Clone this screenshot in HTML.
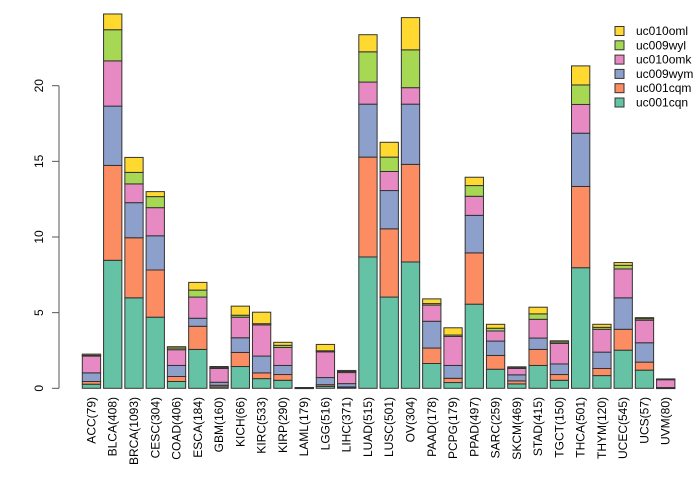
<!DOCTYPE html>
<html><head><meta charset="utf-8"><style>
html,body{margin:0;padding:0;background:#fff;}
svg{display:block;font-family:"Liberation Sans",sans-serif;}
</style></head><body>
<svg id="chart" width="700" height="480" viewBox="0 0 700 480"></svg>
<script>
const categories = ["ACC(79)","BLCA(408)","BRCA(1093)","CESC(304)","COAD(406)","ESCA(184)","GBM(160)","KICH(66)","KIRC(533)","KIRP(290)","LAML(179)","LGG(516)","LIHC(371)","LUAD(515)","LUSC(501)","OV(304)","PAAD(178)","PCPG(179)","PPAD(497)","SARC(259)","SKCM(469)","STAD(415)","TGCT(150)","THCA(501)","THYM(120)","UCEC(545)","UCS(57)","UVM(80)"];
const seriesNames = ["uc001cqn","uc001cqm","uc009wym","uc010omk","uc009wyl","uc010oml"];
const seriesColors = ["#66C2A5","#FC8D62","#8DA0CB","#E78AC3","#A6D854","#FFD92F"];
const uc001cqn = [0.27,8.46,5.98,4.70,0.45,2.57,0.09,1.44,0.64,0.53,0.02,0.13,0.04,8.68,6.03,8.35,1.64,0.38,5.56,1.26,0.29,1.51,0.53,7.97,0.84,2.52,1.20,0.02];
const uc001cqm = [0.18,6.27,3.97,3.12,0.33,1.53,0.11,0.93,0.38,0.38,0.01,0.11,0.05,6.60,4.51,6.45,1.02,0.28,3.39,0.91,0.20,1.06,0.38,5.37,0.47,1.38,0.53,0.01];
const uc009wym = [0.57,3.92,2.32,2.26,0.73,0.53,0.20,0.97,1.11,0.60,0.01,0.47,0.22,3.50,2.53,3.98,1.77,0.85,2.48,0.95,0.40,0.75,0.70,3.52,1.08,2.08,1.28,0.02];
const uc010omk = [1.11,2.99,1.24,1.86,1.04,1.40,0.91,1.36,2.06,1.19,0.01,1.70,0.73,1.46,1.26,1.09,1.07,1.92,1.26,0.67,0.42,1.24,1.36,1.90,1.51,1.91,1.49,0.53];
const uc009wyl = [0.05,2.06,0.76,0.73,0.11,0.46,0.06,0.13,0.08,0.14,0.00,0.07,0.07,2.00,0.95,2.50,0.10,0.09,0.71,0.18,0.04,0.36,0.09,1.29,0.13,0.24,0.10,0.02];
const uc010oml = [0.08,1.04,0.99,0.33,0.09,0.51,0.07,0.60,0.76,0.20,0.00,0.42,0.07,1.13,0.98,2.13,0.31,0.48,0.55,0.26,0.07,0.44,0.08,1.26,0.20,0.18,0.07,0.02];
const yTicks = [0,5,10,15,20];

const series = [uc001cqn,uc001cqm,uc009wym,uc010omk,uc009wyl,uc010oml];
const NS="http://www.w3.org/2000/svg";
const svg=document.getElementById('chart');
const y0=388.3, pxPerUnit=15.13, x0=82.3, step=21.27, bw=18.3;
const yScale=v=>y0-v*pxPerUnit;
const xScale=i=>x0+i*step;
function mk(tag,attrs){const e=document.createElementNS(NS,tag);for(const k in attrs)e.setAttribute(k,attrs[k]);svg.appendChild(e);return e;}

categories.forEach((c,i)=>{
  let cum=0;
  series.forEach((s,j)=>{
    const v=s[i];
    const top=yScale(cum+v), bot=yScale(cum);
    const r=mk('rect',{x:xScale(i),y:top,width:bw,height:Math.max(bot-top,0.6),fill:seriesColors[j],stroke:'#333',"stroke-width":1});
    
    
    cum+=v;
  });
  const cx=xScale(i)+bw/2+4;
  const t=mk('text',{x:0,y:0,transform:`translate(${cx},397) rotate(-90)`,"text-anchor":"end","font-size":12,fill:'#000'});
  t.textContent=c;
  
  
});

const ax=mk('line',{x1:59,x2:59,y1:yScale(20),y2:yScale(0),stroke:'#555',"stroke-width":1});


yTicks.forEach(v=>{
  const l=mk('line',{x1:52,x2:59,y1:yScale(v),y2:yScale(v),stroke:'#555',"stroke-width":1});
  
  
  const t=mk('text',{x:0,y:0,transform:`translate(43,${yScale(v)}) rotate(-90)`,"text-anchor":"middle","font-size":12,fill:'#000'});
  t.textContent=String(v);
  
  
});

for(let k=0;k<6;k++){
  const j=5-k, cy=31+k*14.3;
  const r=mk('rect',{x:615,y:cy-4.5,width:9,height:9,fill:seriesColors[j],stroke:'#333',"stroke-width":1});
  
  
  const t=mk('text',{x:636,y:cy+4,"font-size":12,fill:'#000'});
  t.textContent=seriesNames[j];
  
  
}
</script>
</body></html>
